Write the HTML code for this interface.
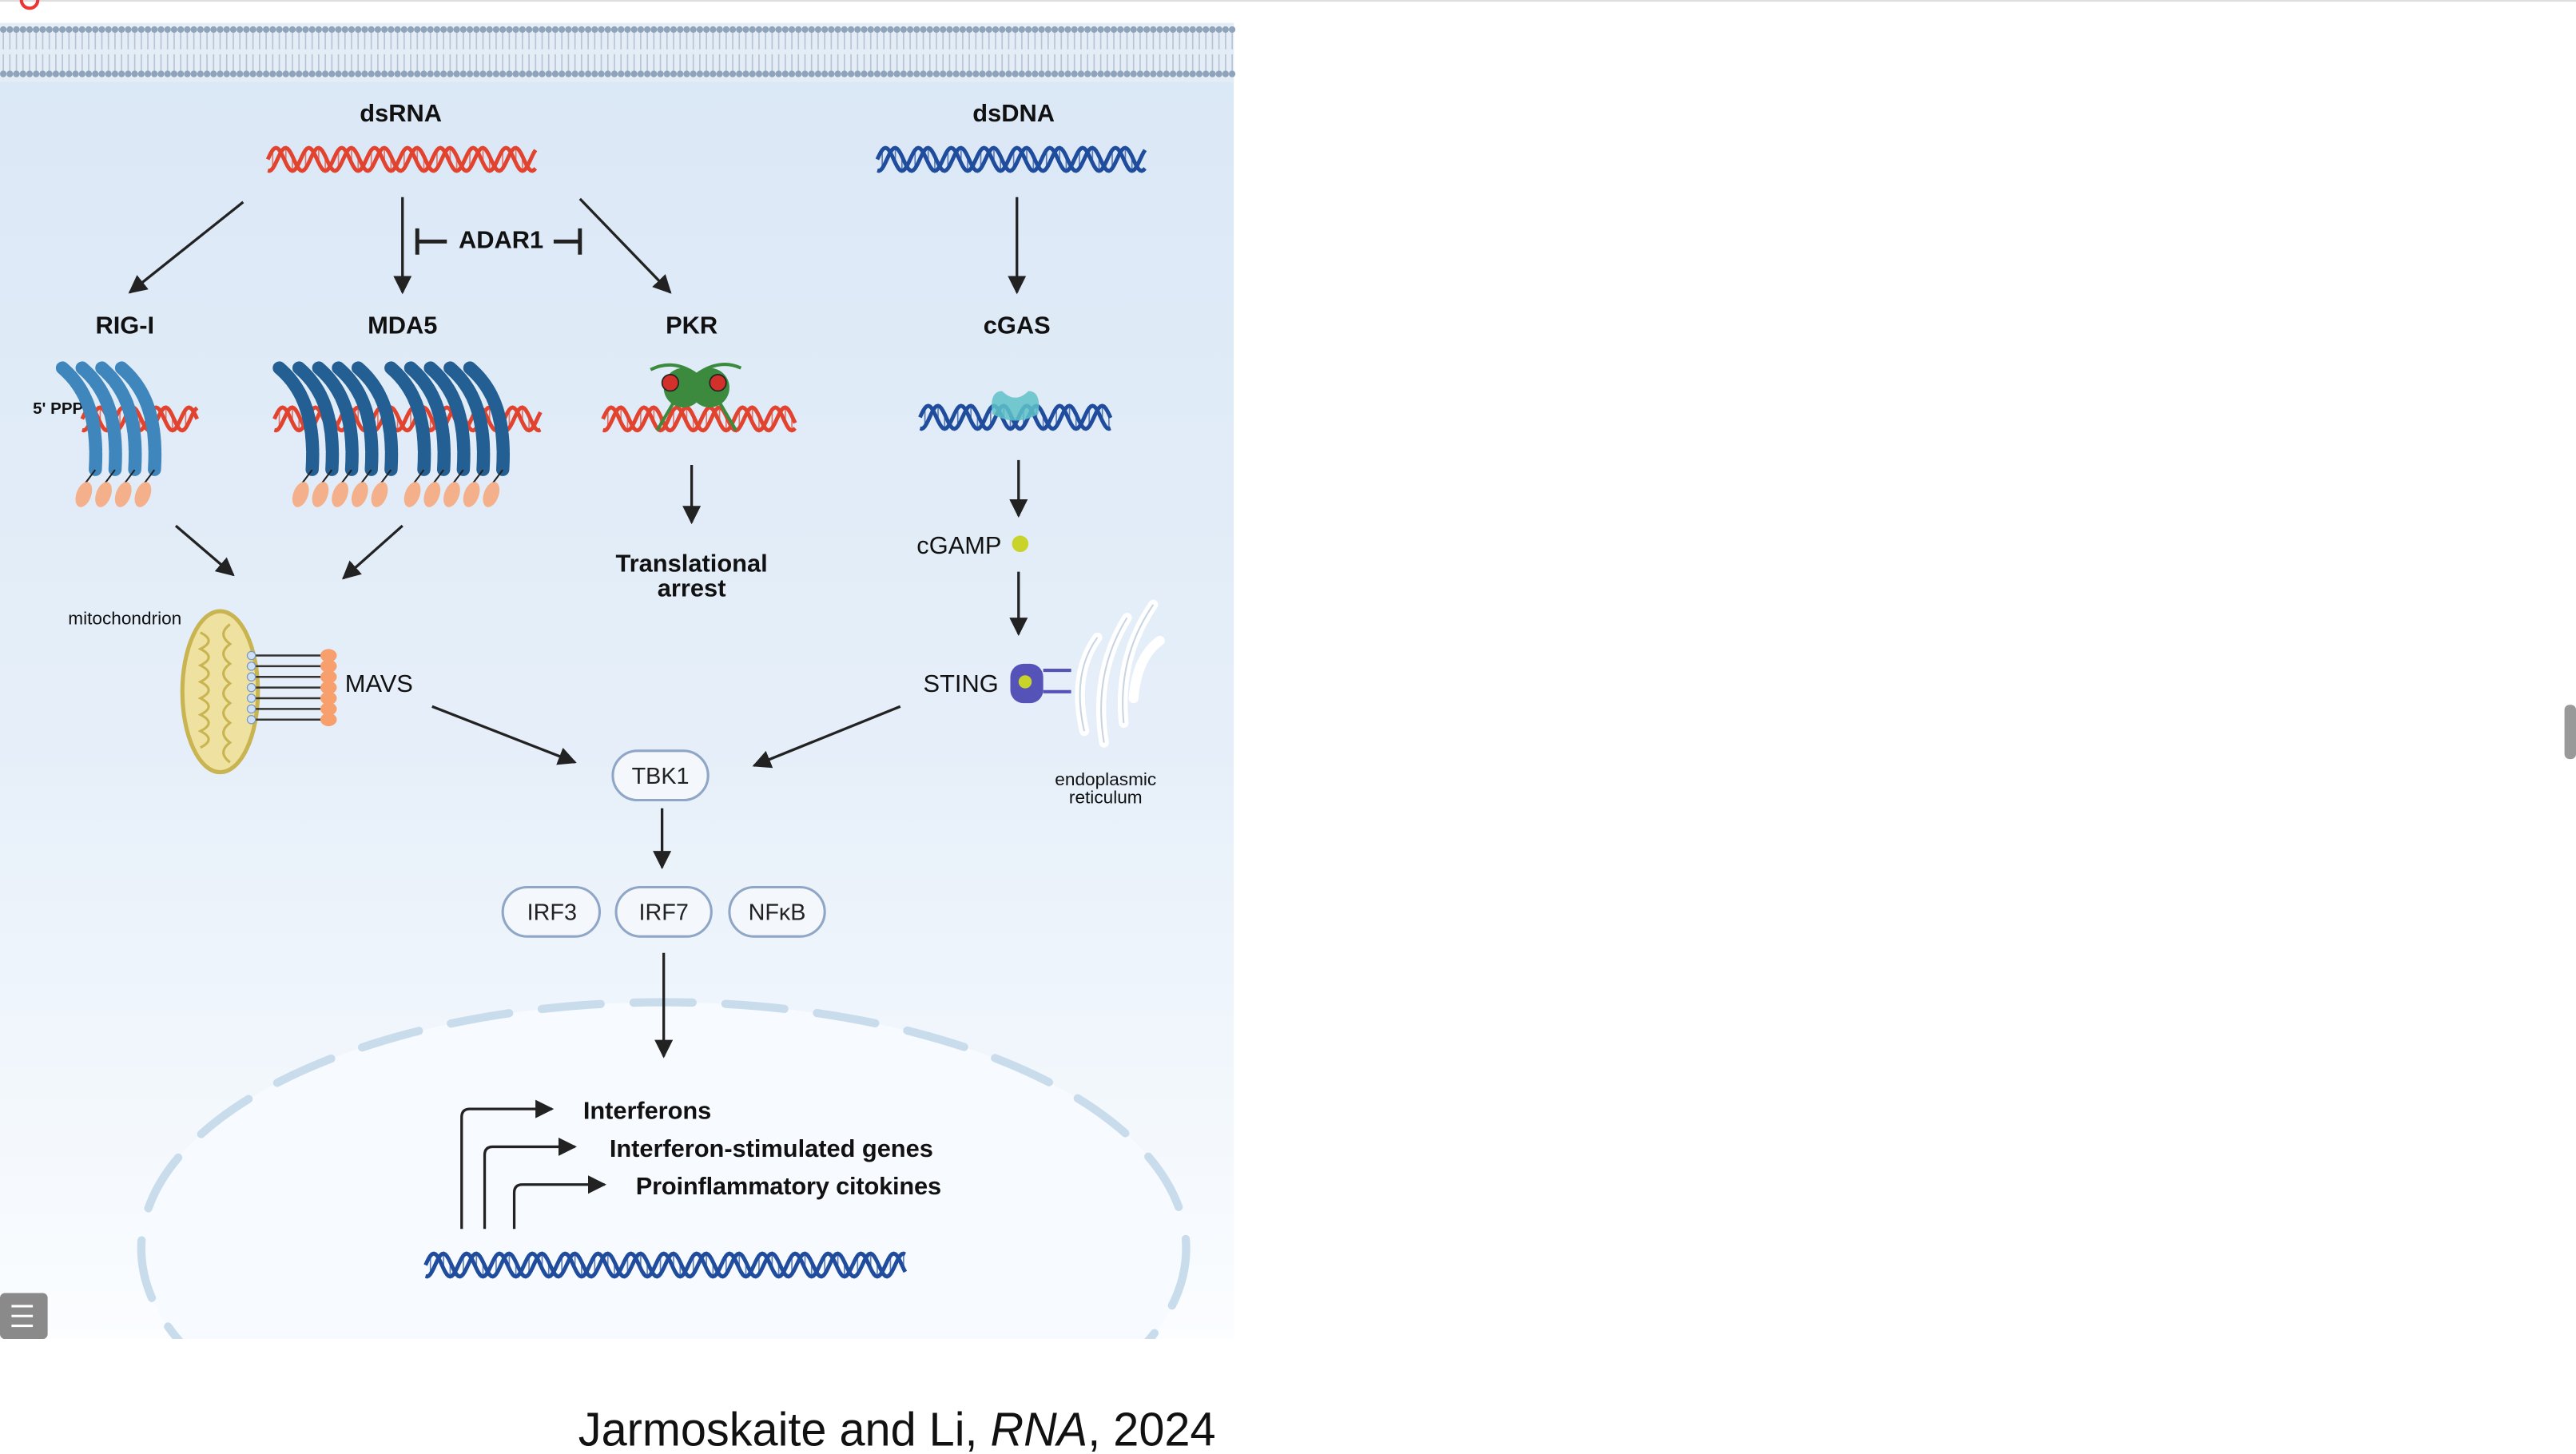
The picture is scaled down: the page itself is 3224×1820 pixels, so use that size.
<!DOCTYPE html>
<html><head><meta charset="utf-8"><style>
html,body{margin:0;padding:0;background:#fff;}
svg{display:block;font-family:"Liberation Sans",Arial,sans-serif;}
</style></head><body>
<svg id="s" width="3224" height="1820" viewBox="0 0 1568 885" preserveAspectRatio="none" xmlns="http://www.w3.org/2000/svg">
<defs>
<linearGradient id="bg" x1="0" y1="0" x2="0" y2="1">
<stop offset="0" stop-color="#dae7f6"/><stop offset="0.55" stop-color="#e6eff9"/><stop offset="1" stop-color="#fbfdff"/></linearGradient>
<marker id="ah" viewBox="0 0 10 10" refX="9" refY="5" markerWidth="7" markerHeight="7" orient="auto-start-reverse"><path d="M0,0 L10,5 L0,10 z" fill="#222"/></marker>
<clipPath id="pc"><rect x="0" y="14" width="751" height="801"/></clipPath>
</defs>
<rect x="0" y="0" width="1568" height="1" fill="#ddd"/>
<circle cx="18" cy="0" r="5" fill="none" stroke="#e33" stroke-width="2"/>
<rect x="0" y="14" width="751" height="801" fill="url(#bg)"/>
<rect x="0" y="14" width="751" height="36" fill="#e4ecf5"/>
<g id="mem"></g>
<g id="helices"></g>
<g clip-path="url(#pc)"><ellipse cx="404" cy="760" rx="318" ry="150" fill="#f7fafe" stroke="#c8dcec" stroke-width="5" stroke-dasharray="36 20" stroke-linecap="round"/></g>
<g id="helices2"></g>
<g font-weight="bold" font-size="15" fill="#111" text-anchor="middle">
<text x="244" y="74">dsRNA</text>
<text x="617" y="74">dsDNA</text>
<text x="305" y="151">ADAR1</text>
<text x="76" y="203">RIG-I</text>
<text x="245" y="203">MDA5</text>
<text x="421" y="203">PKR</text>
<text x="619" y="203">cGAS</text>
<text x="421" y="348">Translational</text>
<text x="421" y="363">arrest</text>
</g>
<g font-weight="bold" font-size="15" fill="#111">
<text x="355" y="681" textLength="78">Interferons</text>
<text x="371" y="704" textLength="197">Interferon-stimulated genes</text>
<text x="387" y="727" textLength="186">Proinflammatory citokines</text>
</g>
<text x="20" y="252" font-size="10" font-weight="bold" fill="#111">5' PPP</text>
<text x="76" y="380" font-size="11" text-anchor="middle" fill="#111">mitochondrion</text>
<text x="673" y="478" font-size="11" text-anchor="middle" fill="#111">endoplasmic</text>
<text x="673" y="489" font-size="11" text-anchor="middle" fill="#111">reticulum</text>
<text x="210" y="421" font-size="15" fill="#111">MAVS</text>
<text x="562" y="421" font-size="15" fill="#111">STING</text>
<text x="558" y="337" font-size="15" fill="#111">cGAMP</text>
<circle cx="621" cy="331" r="5" fill="#c9d42a"/>
<g stroke="#222" stroke-width="1.6" fill="none" marker-end="url(#ah)">
<line x1="148" y1="123" x2="79" y2="178"/>
<line x1="245" y1="120" x2="245" y2="178"/>
<line x1="353" y1="121" x2="408" y2="178"/>
<line x1="619" y1="120" x2="619" y2="178"/>
<line x1="107" y1="320" x2="142" y2="350"/>
<line x1="245" y1="320" x2="209" y2="352"/>
<line x1="421" y1="283" x2="421" y2="318"/>
<line x1="620" y1="280" x2="620" y2="314"/>
<line x1="620" y1="348" x2="620" y2="386"/>
<line x1="263" y1="430" x2="350" y2="464"/>
<line x1="548" y1="430" x2="459" y2="466"/>
<line x1="403" y1="492" x2="403" y2="528"/>
<line x1="404" y1="580" x2="404" y2="643"/>
<path d="M281,748 V680 Q281,675 286,675 H336"/>
<path d="M295,748 V703 Q295,698 300,698 H350"/>
<path d="M313,748 V726 Q313,721 318,721 H368"/>
</g>
<g stroke="#222" stroke-width="2.4" fill="none">
<path d="M254,139 V155 M254,147 H272"/><path d="M337,147 H353 M353,139 V155"/>
</g>
<g id="prot"></g>
<g font-size="14" fill="#222" text-anchor="middle">
<rect x="373" y="457" width="58" height="30" rx="15" fill="#f4f8fc" stroke="#8fa6c6" stroke-width="1.5"/><text x="402" y="477">TBK1</text>
<rect x="306" y="540" width="59" height="30" rx="15" fill="#f4f8fc" stroke="#8fa6c6" stroke-width="1.5"/><text x="336" y="560">IRF3</text>
<rect x="375" y="540" width="58" height="30" rx="15" fill="#f4f8fc" stroke="#8fa6c6" stroke-width="1.5"/><text x="404" y="560">IRF7</text>
<rect x="444" y="540" width="58" height="30" rx="15" fill="#f4f8fc" stroke="#8fa6c6" stroke-width="1.5"/><text x="473" y="560">NFκB</text>
</g>
<text x="352" y="880" font-size="29" fill="#111" textLength="388" lengthAdjust="spacingAndGlyphs">Jarmoskaite and Li, <tspan font-style="italic">RNA</tspan>, 2024</text>
<rect x="0" y="787" width="29" height="28" rx="3" fill="#8a8a8a"/>
<g stroke="#fff" stroke-width="1.5"><line x1="7" y1="795" x2="20" y2="795"/><line x1="7" y1="801" x2="20" y2="801"/><line x1="7" y1="807" x2="20" y2="807"/></g>
<rect x="1561" y="429" width="7" height="33" rx="3" fill="#999"/>
</svg>
<script>
const NS="http://www.w3.org/2000/svg";
function mk(p,t,a){const e=document.createElementNS(NS,t);for(const k in a)e.setAttribute(k,a[k]);p.appendChild(e);return e;}
const mem=document.getElementById('mem');
for(let x=2;x<751;x+=4){mk(mem,'circle',{cx:x,cy:18,r:2,fill:'#8fa3ba'});mk(mem,'circle',{cx:x,cy:45,r:2,fill:'#8fa3ba'});
mk(mem,'line',{x1:x,y1:20,x2:x,y2:30,stroke:'#b5c4d6','stroke-width':0.8});mk(mem,'line',{x1:x,y1:33,x2:x,y2:43,stroke:'#b5c4d6','stroke-width':0.8});}
function helix(g,x1,x2,y,amp,per,col){
  let a='',b='';
  for(let x=x1;x<=x2;x+=1){a+=(x==x1?'M':'L')+x+','+(y-amp*Math.sin((x-x1)/per*2*Math.PI));b+=(x==x1?'M':'L')+x+','+(y+amp*Math.sin((x-x1)/per*2*Math.PI+1.3));}
  for(let x=x1+3;x<x2;x+=4){const s1=y-amp*Math.sin((x-x1)/per*2*Math.PI),s2=y+amp*Math.sin((x-x1)/per*2*Math.PI+1.3);mk(g,'line',{x1:x,y1:s1,x2:x,y2:s2,stroke:col,'stroke-width':0.8,opacity:0.7});}
  mk(g,'path',{d:a,fill:'none',stroke:col,'stroke-width':2.4});
  mk(g,'path',{d:b,fill:'none',stroke:col,'stroke-width':2.4});
}
const H=document.getElementById('helices'),H2=document.getElementById('helices2');
const R='#e2432f',B='#1f4c9c';
helix(H,163,326,97,7,20,R);helix(H,534,697,97,7,20,B);
helix(H,50,120,255,7,20,R);helix(H,167,329,255,7,20,R);helix(H,367,484,255,7,20,R);helix(H,560,676,254,7,20,B);
helix(H2,259,551,770,7,20,B);
const P=document.getElementById('prot');
function chain(x,y,col){
  mk(P,'path',{d:`M${x},${y} C${x+14},${y+12} ${x+22},${y+30} ${x+20},${y+62}`,fill:'none',stroke:col,'stroke-width':8,'stroke-linecap':'round','stroke-dasharray':'10 1.5'});
  mk(P,'line',{x1:x+20,y1:y+62,x2:x+14,y2:y+70,stroke:'#222','stroke-width':1});
  mk(P,'ellipse',{cx:x+13,cy:y+77,rx:4.5,ry:8,fill:'#f4b08a',transform:`rotate(20 ${x+13} ${y+77})`});
}
[38,50,62,74].forEach(x=>chain(x,224,'#3f86bd'));
[170,182,194,206,218].forEach(x=>chain(x,224,'#235f92'));
[238,250,262,274,286].forEach(x=>chain(x,224,'#235f92'));
mk(P,'ellipse',{cx:416,cy:236,rx:12,ry:12,fill:'#3b8a3e'});mk(P,'ellipse',{cx:432,cy:236,rx:12,ry:12,fill:'#3b8a3e'});
mk(P,'path',{d:'M396,225 Q410,218 424,228 Q438,218 451,224',fill:'none',stroke:'#3b8a3e','stroke-width':2});
mk(P,'path',{d:'M410,245 L400,262 M438,245 L448,262',fill:'none',stroke:'#3b8a3e','stroke-width':2});
mk(P,'circle',{cx:408,cy:233,r:5,fill:'#d2302a',stroke:'#222','stroke-width':0.8});mk(P,'circle',{cx:437,cy:233,r:5,fill:'#d2302a',stroke:'#222','stroke-width':0.8});
mk(P,'path',{d:'M604,252 Q602,238 610,238 Q618,246 626,238 Q634,238 632,252 Q618,260 604,252z',fill:'#5fc2c9',opacity:0.85});
mk(P,'ellipse',{cx:134,cy:421,rx:23,ry:49,fill:'#efe2a0',stroke:'#c9b452','stroke-width':2.5});
mk(P,'path',{d:'M122,385 q10,5 0,10 q10,5 0,10 q10,5 0,10 q10,5 0,10 q10,5 0,10 q10,5 0,10 q10,5 0,10 M140,380 q-8,6 0,12 q-8,6 0,12 q-8,6 0,12 q-8,6 0,12 q-8,6 0,12 q-8,6 0,12 q-8,6 0,12',fill:'none',stroke:'#c9b452','stroke-width':1.5});
for(let i=0;i<7;i++){const y=399+i*6.5;mk(P,'line',{x1:152,y1:y,x2:196,y2:y,stroke:'#333','stroke-width':1.2});mk(P,'circle',{cx:153,cy:y,r:2.5,fill:'#cfe0f5',stroke:'#7a98c0','stroke-width':0.6});mk(P,'ellipse',{cx:200,cy:y,rx:5,ry:4,fill:'#f7a06e'});}
mk(P,'rect',{x:615,y:404,width:20,height:24,rx:8,fill:'#5552b8'});mk(P,'circle',{cx:624,cy:415,r:4,fill:'#c9d42a'});
mk(P,'path',{d:'M635,408 H652 M635,421 H652',stroke:'#5552b8','stroke-width':2});
mk(P,'path',{d:'M660,445 Q652,410 668,388 M672,452 Q665,410 686,376 M684,440 Q680,400 702,368 M690,425 Q692,400 706,390',fill:'none',stroke:'#fff','stroke-width':6,'stroke-linecap':'round'});
mk(P,'path',{d:'M660,445 Q652,410 668,388 M672,452 Q665,410 686,376 M684,440 Q680,400 702,368',fill:'none',stroke:'#c8d4e2','stroke-width':1});
</script>
</body></html>
